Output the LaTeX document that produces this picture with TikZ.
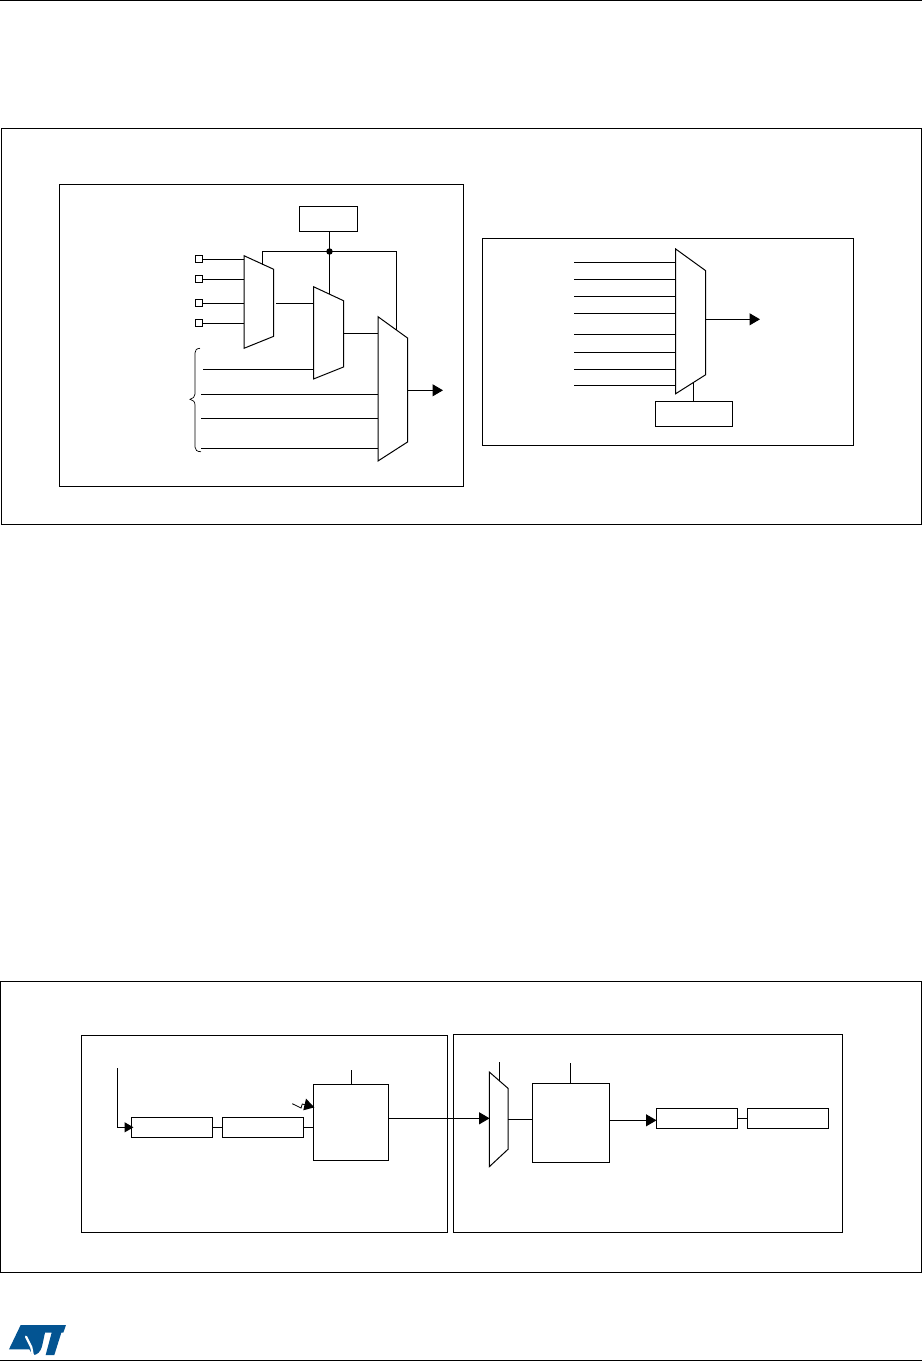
\documentclass[tikz,border=0pt]{standalone}
\usetikzlibrary{arrows.meta}
\definecolor{stblue}{RGB}{3,84,146}
\tikzset{
  wire/.style={draw=black,line width=1pt},
  frame/.style={draw=black,line width=1pt,fill=none},
  blockbox/.style={draw=black,line width=1pt,anchor=north west,inner sep=0pt,outer sep=0pt,minimum width=#1},
  blockbox/.default=10pt,
  pad/.style={draw=black,line width=1pt,fill=white,inner sep=0pt,outer sep=0pt,minimum size=7pt},
  tip/.style={wire,-{Triangle[length=10.5pt,width=12pt]},shorten >=0pt},
  smalltip/.style={wire,-{Triangle[length=9pt,width=10pt]}},
  muxshape/.style={draw=black,line width=1pt,line join=miter},
  junction/.style={circle,fill=black,inner sep=0pt,minimum size=6.5pt},
  logo/.style={fill=stblue,draw=none},
  rule/.style={draw=black,line width=1pt}
}
\begin{document}
\begin{tikzpicture}[x=1pt,y=-1pt]
\useasboundingbox (0,0) rectangle (922,1361);
% page rules
\coordinate (rtl) at (0,0.5); \coordinate (rtr) at (922,0.5);
\coordinate (rbl) at (0,1360.5); \coordinate (rbr) at (922,1360.5);
\draw[rule] (rtl) -- (rtr);
\draw[rule] (rbl) -- (rbr);
% figure frames
\coordinate (f1a) at (1.5,128.5); \coordinate (f1b) at (921.5,524.5);
\draw[frame] (f1a) rectangle (f1b);
\coordinate (f2a) at (59.5,184.5); \coordinate (f2b) at (463.5,486.5);
\draw[frame] (f2a) rectangle (f2b);
\coordinate (f3a) at (482.5,238.5); \coordinate (f3b) at (853.5,445.5);
\draw[frame] (f3a) rectangle (f3b);
\coordinate (f4a) at (0.5,981.5); \coordinate (f4b) at (921.5,1272.5);
\draw[frame] (f4a) rectangle (f4b);
\coordinate (f5a) at (81.5,1035.5); \coordinate (f5b) at (447.5,1232.5);
\draw[frame] (f5a) rectangle (f5b);
\coordinate (f6a) at (453.5,1034.5); \coordinate (f6b) at (842.5,1232.5);
\draw[frame] (f6a) rectangle (f6b);

% ---- left part of the top figure
\node[blockbox=58pt,minimum height=25pt] (sel) at (299.5,206.5) {};
\coordinate (m1a) at (244,255.7); \coordinate (m1b) at (273.7,269.3);
\coordinate (m1c) at (273.7,336.3); \coordinate (m1d) at (244,348.3);
\draw[muxshape] (m1a) -- (m1b) -- (m1c) -- (m1d) -- cycle;
\coordinate (m2a) at (313.5,286.7); \coordinate (m2b) at (343.5,300.7);
\coordinate (m2c) at (343.5,367); \coordinate (m2d) at (313.5,379);
\draw[muxshape] (m2a) -- (m2b) -- (m2c) -- (m2d) -- cycle;
\coordinate (m3a) at (378,316.7); \coordinate (m3b) at (407.5,338);
\coordinate (m3c) at (407.5,442); \coordinate (m3d) at (378,461);
\draw[muxshape] (m3a) -- (m3b) -- (m3c) -- (m3d) -- cycle;
% select bus
\coordinate (j) at (329.5,251.5);
\coordinate (m2top) at (329.5,293.9);
\coordinate (selb) at (329.5,231.5);
\coordinate (busl) at (262.5,251.5); \coordinate (busr) at (396.5,251.5);
\coordinate (m1top) at (262.5,264.5); \coordinate (m3top) at (396.5,330);
\draw[wire] (selb) -- (m2top);
\draw[wire] (m1top) -- (busl) -- (busr) -- (m3top);
\node[junction] (jd) at (j) {};
% pads
\foreach \n/\y in {p1/259.3,p2/279.3,p3/303.3,p4/323.3}{
  \node[pad] (\n) at (199,\y) {};
  \coordinate (\n e) at (244,\y);
  \draw[wire] (\n.east) -- (\n e);
}
% mux links
\coordinate (l1a) at (276,303.3); \coordinate (l1b) at (313.5,303.3);
\draw[wire] (l1a) -- (l1b);
\coordinate (l2a) at (343.5,333.3); \coordinate (l2b) at (378,333.3);
\draw[wire] (l2a) -- (l2b);
\coordinate (i1a) at (203,369.3); \coordinate (i1b) at (313.5,369.3);
\draw[wire] (i1a) -- (i1b);
\foreach \n/\y in {i2/394.3,i3/418.3,i4/448.3}{
  \coordinate (\n a) at (201,\y); \coordinate (\n b) at (378,\y);
  \draw[wire] (\n a) -- (\n b);
}
\coordinate (o1a) at (407.5,390.3); \coordinate (o1b) at (443,390.3);
\draw[tip] (o1a) -- (o1b);
% brace
\coordinate (bt) at (200,348.3); \coordinate (bm) at (190,399.3); \coordinate (bb) at (201,451.7);
\draw[line width=0.7pt] (bt) .. controls (196.5,348.5) and (195,350) .. (195,353)
  -- (195,394) .. controls (195,397) and (193,398.5) .. (bm)
  .. controls (193,400) and (195,401.5) .. (195,405)
  -- (195,447) .. controls (195,450) and (197,451.7) .. (bb);

% ---- right part of the top figure
\coordinate (m4a) at (675.7,249); \coordinate (m4b) at (705.7,270.7);
\coordinate (m4c) at (705.7,374.7); \coordinate (m4d) at (675.7,393.7);
\draw[muxshape] (m4a) -- (m4b) -- (m4c) -- (m4d) -- cycle;
\foreach \n/\y in {r1/262.3,r2/279.3,r3/296.3,r4/313.3,r5/334.3,r6/352.3,r7/369.3,r8/385.3}{
  \coordinate (\n a) at (574,\y); \coordinate (\n b) at (675.7,\y);
  \draw[wire] (\n a) -- (\n b);
}
\coordinate (o2a) at (705.7,319.3); \coordinate (o2b) at (760,319.3);
\draw[tip] (o2a) -- (o2b);
\node[blockbox=77.5pt,minimum height=25.5pt] (sel2) at (655.3,401.3) {};
\coordinate (s2a) at (693.3,382.3); \coordinate (s2b) at (693.3,401.3);
\draw[wire] (s2a) -- (s2b);

% ---- bottom figure, left
\node[blockbox=81.4pt,minimum height=20pt] (A) at (131.3,1117.3) {};
\node[blockbox=81pt,minimum height=20pt] (B) at (222.3,1117.3) {};
\node[blockbox=75pt,minimum height=76pt] (C) at (313.3,1084.3) {};
\coordinate (vt) at (117.3,1068); \coordinate (vc) at (117.3,1127.3); \coordinate (vi) at (133.5,1127.3);
\draw[smalltip] (vt) -- (vc) -- (vi);
\draw[wire] (A.east) -- (B.west);
\coordinate (bce) at (313.3,1127.3);
\draw[wire] (B.east) -- (bce);
\coordinate (cs1) at (351.3,1070); \coordinate (cs2) at (351.3,1084.3);
\draw[wire] (cs1) -- (cs2);
% lightning
\coordinate (z1) at (292.3,1103.7); \coordinate (z2) at (301,1108); \coordinate (z3) at (302.3,1104);
\coordinate (z4) at (306,1105); \coordinate (z5) at (314.5,1107.3);
\draw[line width=0.8pt] (z1) -- (z2) -- (z3) -- (z4);
\coordinate (za) at (306,1098.7); \coordinate (zb) at (303.3,1110.3);
\fill (za) -- (z5) -- (zb) -- cycle;

% ---- bottom figure, right
\coordinate (m5a) at (489.3,1072); \coordinate (m5b) at (508,1088.3);
\coordinate (m5c) at (508,1149.3); \coordinate (m5d) at (489.3,1166.7);
\draw[muxshape] (m5a) -- (m5b) -- (m5c) -- (m5d) -- cycle;
\coordinate (cout) at (388.3,1118.3); \coordinate (min) at (489.6,1118.3);
\draw[tip] (cout) -- (min);
\coordinate (ms1) at (499.3,1062); \coordinate (ms2) at (499.3,1081);
\draw[wire] (ms1) -- (ms2);
\node[blockbox=77pt,minimum height=79pt] (D) at (532.3,1083.3) {};
\coordinate (mo) at (508,1119.3); \coordinate (di) at (532.3,1119.3);
\draw[wire] (mo) -- (di);
\coordinate (ds1) at (570.3,1063); \coordinate (ds2) at (570.3,1083.3);
\draw[wire] (ds1) -- (ds2);
\node[blockbox=81pt,minimum height=20pt] (E) at (656.3,1108.3) {};
\node[blockbox=81.4pt,minimum height=20pt] (F) at (747.3,1108.3) {};
\coordinate (dout) at (609.3,1120.3); \coordinate (ei) at (656.5,1120.3);
\draw[tip] (dout) -- (ei);
\draw[wire] (E.east) -- (F.west);

% ---- logo
\begin{scope}[shift={(0,1290)},x=0.3333pt,y=-0.3333pt]
\fill[logo] (62,105) -- (198,105) -- (190,128) -- (184,128) -- (163,195) -- (137,195)
  -- (155,128) -- (135,128) -- (127,165) .. controls (122,187) and (112,195) .. (98,195)
  -- (88,178) -- (27,178) -- cycle;
\draw[white,line width=2.2pt,line cap=round] (78,140) -- (86,156) -- (94,172) -- (99,198);
\end{scope}
\end{tikzpicture}
\end{document}
